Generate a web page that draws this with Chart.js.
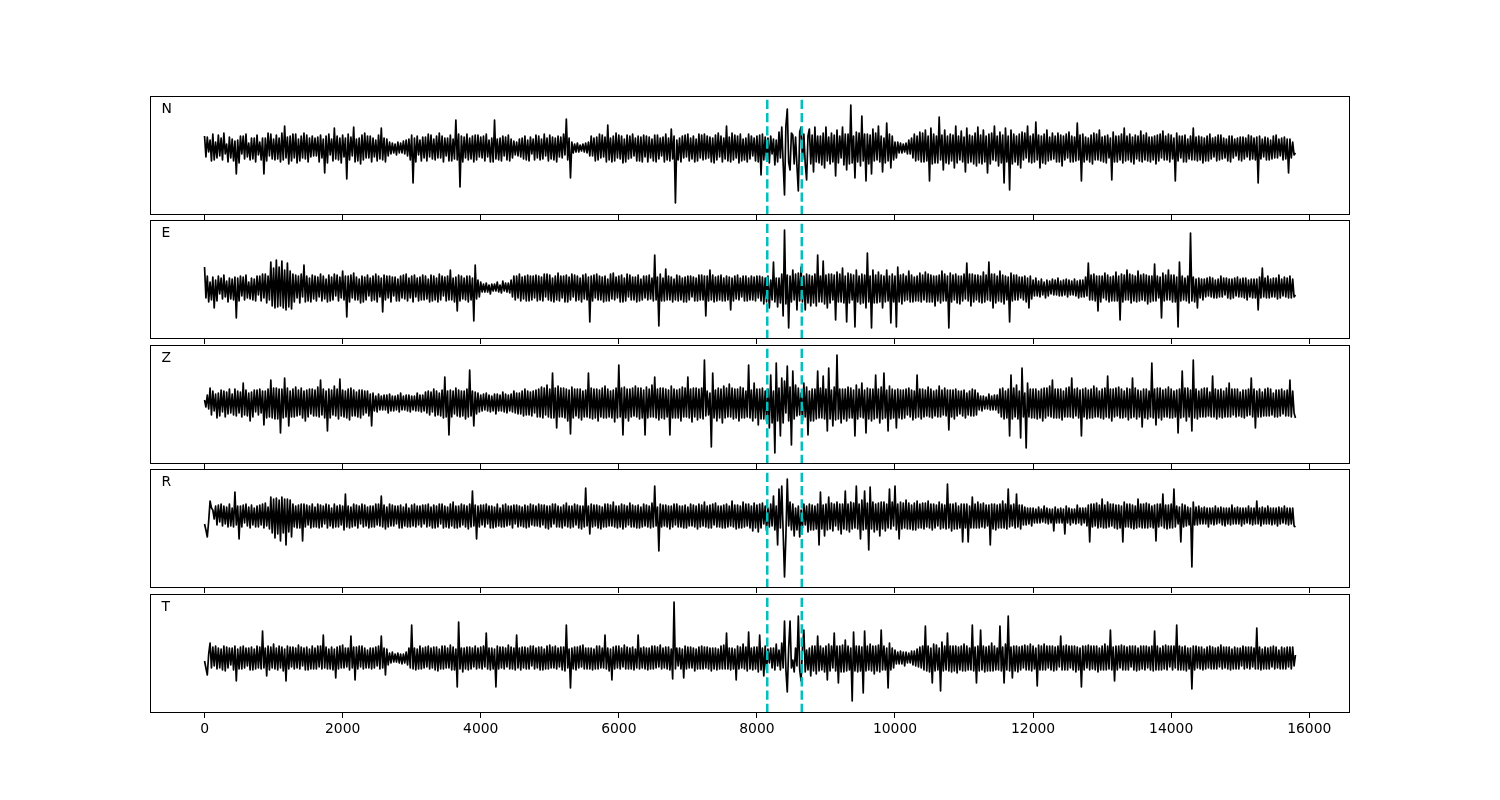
<!DOCTYPE html>
<html>
<head>
<meta charset="utf-8">
<script src="https://cdn.jsdelivr.net/npm/chart.js@4.4.1/dist/chart.umd.min.js"></script>
<style>
html,body{margin:0;padding:0;background:#fff;}
#wrap{position:relative;width:1500px;height:800px;overflow:hidden;background:#fff;}
#wrap canvas{position:absolute;left:0;}
</style>
</head>
<body>
<div id="wrap"></div>
<script>
// ---- data: sample spacing, component names, ticks, pick times, traces ----
const timeStep = 20;
const componentNames = ['N', 'E', 'Z', 'R', 'T'];
const tickValues = [0, 2000, 4000, 6000, 8000, 10000, 12000, 14000, 16000];
const pickTimes = [8150, 8650];

const seriesN = [
 12,-9,11,-4,8,-13,14,-12,6,-10,13,-8,10,-12,15,-6,4,-14,11,-10,9,-13,7,-26,8,-15,12,-6,12,-11,14,-9,5,-12,10,-11,10,-14,13,-7,
 6,-12,10,-26,10,-13,15,-8,14,-11,9,-12,13,-11,10,-14,15,-12,22,-10,11,-16,12,-13,14,-10,14,-15,9,-13,12,-10,15,-11,13,-14,10,-9,12,-8,
 10,-8,11,-14,13,-10,9,-25,12,-15,14,-7,9,-13,20,-11,12,-12,10,-15,13,-9,10,-31,14,-12,11,-8,21,-14,9,-13,10,-16,13,-12,15,-10,12,-10,
 12,-14,10,-9,8,-13,13,-11,20,-12,10,-14,9,-8,6,-6,5,-5,4,-7,6,-5,5,-5,7,-6,8,-8,9,-12,13,-35,10,-14,12,-7,8,-13,11,-10,
 11,-13,14,-9,13,-11,9,-12,12,-10,15,-10,12,-14,10,-8,10,-13,13,-13,9,-11,28,-12,14,-39,12,-14,11,-10,14,-12,10,-11,12,-14,13,-12,13,-9,
 11,-10,12,-13,14,-9,8,-14,10,-14,28,-11,9,-12,10,-13,12,-8,11,-12,13,-13,9,-10,7,-7,6,-8,9,-9,10,-11,12,-12,8,-13,11,-6,9,-12,
 13,-10,12,-12,9,-11,14,-8,10,-13,13,-11,11,-12,10,-14,12,-9,11,-10,14,-7,29,-12,10,-30,6,-5,4,-4,5,-4,3,-3,4,-4,5,-5,6,-8,
 12,-8,10,-13,11,-12,14,-10,13,-9,11,-14,23,-12,10,-14,12,-13,15,-10,13,-11,12,-15,9,-14,13,-11,12,-10,14,-8,10,-13,12,-13,11,-14,13,-9,
 12,-14,11,-10,9,-13,13,-14,13,-11,10,-8,11,-14,14,-12,10,-13,19,-11,12,-55,8,-12,10,-14,12,-10,13,-9,14,-13,10,-11,12,-14,9,-13,14,-10,
 13,-12,14,-11,12,-10,11,-14,10,-15,13,-12,15,-9,12,-14,10,-11,22,-13,11,-14,15,-12,13,-10,12,-15,14,-13,9,-12,10,-14,14,-11,12,-8,10,-13,
 12,-14,13,-27,14,-12,11,-12,10,-15,12,-6,9,-17,8,-14,16,-10,21,-15,-47,22,39,-14,-22,15,13,-16,11,-18,-43,16,21,-12,14,-16,-32,12,19,-16,
 13,-24,21,-14,12,-15,12,-17,15,-20,21,-13,11,-16,15,-14,13,-28,18,-15,12,-10,21,-17,14,-22,14,-16,43,-15,12,-30,16,-14,15,-18,32,-13,14,-33,
 14,-16,13,-26,19,-13,15,-12,22,-14,12,-24,10,-15,25,-13,14,-20,12,-12,6,-10,6,-5,5,-5,4,-4,5,-6,8,-6,10,-10,14,-13,12,-12,16,-14,
 15,-14,18,-13,12,-33,20,-16,14,-15,12,-15,31,-12,13,-22,18,-15,12,-16,14,-13,13,-20,22,-15,12,-12,17,-14,11,-24,20,-15,13,-14,12,-16,15,-18,
 21,-15,13,-16,18,-14,12,-25,14,-16,15,-12,22,-13,12,-18,16,-15,13,-35,20,-14,12,-42,18,-16,14,-14,12,-17,14,-20,16,-12,15,-10,22,-14,12,-15,
 14,-14,26,-12,13,-20,12,-15,14,-16,18,-13,11,-12,15,-11,12,-14,15,-14,13,-18,12,-12,14,-10,16,-14,12,-14,11,-13,25,-12,13,-33,14,-14,11,-12,
 10,-14,13,-16,15,-12,14,-12,18,-13,11,-14,12,-15,13,-10,10,-32,16,-14,12,-14,12,-12,14,-15,20,-13,12,-12,14,-14,11,-16,13,-11,12,-13,17,-14,
 13,-12,15,-13,11,-14,11,-12,12,-16,13,-13,14,-10,17,-12,12,-12,14,-14,13,-11,10,-33,15,-13,12,-10,12,-14,13,-14,9,-11,12,-12,20,-12,11,-13,
 12,-12,11,-15,10,-13,12,-13,14,-11,10,-9,11,-13,13,-12,13,-11,10,-10,9,-13,12,-14,12,-10,9,-8,10,-12,11,-13,11,-11,10,-9,13,-12,12,-11,
 10,-12,11,-35,12,-11,9,-9,11,-12,10,-12,8,-11,12,-10,13,-10,9,-8,10,-12,11,-11,9,-25,9,-10,6,-7,-5
];
const seriesE = [
 21,-10,12,-14,6,-12,11,-20,8,-13,12,-6,10,-11,13,-9,7,-14,10,-11,9,-12,11,-30,10,-13,12,-8,11,-12,13,-10,6,-11,10,-12,9,-13,12,-7,
 12,-13,14,-10,14,-15,12,-12,26,-18,20,-20,28,-19,21,-18,27,-20,18,-22,25,-19,17,-21,14,-14,13,-10,12,-15,14,-9,23,-14,12,-13,10,-14,13,-11,
 12,-13,11,-9,14,-13,12,-11,9,-14,13,-13,11,-12,14,-8,13,-13,11,-10,17,-12,12,-29,12,-14,13,-10,15,-12,11,-12,9,-15,12,-14,11,-12,13,-8,
 10,-13,12,-12,14,-14,12,-9,10,-24,13,-12,12,-10,12,-14,11,-8,11,-13,9,-13,12,-10,13,-11,14,-13,10,-10,12,-14,13,-9,10,-13,11,-12,13,-12,
 12,-11,9,-14,13,-13,12,-12,10,-14,14,-12,12,-8,11,-13,12,-12,18,-12,10,-14,11,-23,13,-13,12,-11,10,-12,12,-14,12,-12,10,-33,23,-11,8,-9,
 6,-4,4,-4,5,-4,3,-6,4,-3,4,-3,6,-4,3,-5,7,-3,5,-4,5,-5,8,-9,12,-12,12,-10,14,-13,11,-11,12,-13,13,-13,12,-12,12,-10,
 13,-13,12,-12,11,-13,14,-9,14,-12,13,-13,10,-14,12,-12,15,-13,12,-10,12,-14,13,-14,11,-12,14,-9,13,-13,12,-12,10,-14,13,-11,14,-12,11,-34,
 12,-13,13,-10,14,-12,12,-12,11,-14,12,-13,9,-13,14,-11,15,-12,11,-10,12,-14,13,-14,10,-13,14,-9,13,-12,11,-12,11,-14,13,-13,9,-12,12,-10,
 12,-12,13,-11,10,-13,33,-12,11,-38,14,-13,10,-13,19,-12,12,-12,11,-14,9,-12,13,-13,12,-12,10,-14,11,-14,12,-12,12,-9,11,-13,10,-13,13,-12,
 13,-12,12,-28,12,-13,18,-12,13,-14,11,-13,12,-12,13,-13,10,-13,12,-12,11,-22,10,-13,12,-11,13,-12,10,-9,12,-13,12,-13,10,-12,12,-12,11,-13,
 12,-10,12,-13,11,-16,10,-14,12,-20,8,-12,26,-14,10,-19,10,-15,14,-28,58,-16,13,-40,12,-14,18,-12,14,-22,15,-13,21,-14,12,-22,14,-15,13,-18,
 12,-15,14,-18,33,-14,12,-14,27,-16,13,-20,14,-15,14,-12,13,-32,16,-14,14,-14,20,-15,12,-34,15,-15,14,-12,13,-39,18,-14,12,-16,14,-15,13,-20,
 35,-14,12,-40,18,-15,13,-15,16,-14,13,-20,12,-14,18,-13,12,-35,14,-14,12,-39,21,-14,13,-16,14,-13,12,-12,17,-14,13,-14,11,-13,12,-13,15,-14,
 13,-12,16,-14,14,-14,13,-14,12,-18,12,-13,13,-15,17,-13,14,-13,12,-40,15,-14,13,-12,14,-15,12,-16,12,-13,14,-11,25,-13,14,-18,14,-14,13,-12,
 13,-14,12,-15,16,-14,13,-12,26,-13,14,-20,14,-15,12,-13,17,-14,13,-16,12,-12,11,-34,15,-13,13,-12,13,-12,11,-10,11,-12,12,-14,10,-20,12,-11,
 8,-8,10,-8,7,-9,9,-7,6,-10,8,-8,7,-6,9,-7,8,-7,10,-8,7,-8,8,-7,9,-9,8,-7,7,-7,9,-8,7,-10,8,-9,8,-9,11,-8,
 25,-12,13,-12,14,-13,12,-23,12,-14,12,-10,15,-12,13,-14,11,-13,12,-13,16,-13,12,-32,14,-14,13,-12,18,-12,14,-15,13,-13,12,-14,17,-13,13,-12,
 14,-13,13,-16,12,-14,12,-13,24,-13,12,-10,11,-30,15,-13,13,-12,18,-12,13,-14,13,-14,11,-39,26,-13,12,-12,10,-13,12,-15,55,-13,11,-14,9,-20,
 10,-10,9,-12,9,-9,10,-8,11,-9,10,-10,8,-10,9,-9,12,-9,10,-7,10,-10,9,-11,9,-10,10,-8,11,-9,9,-9,10,-10,10,-12,8,-9,9,-10,
 9,-10,9,-22,11,-10,20,-9,10,-10,12,-10,9,-9,10,-9,10,-11,13,-10,9,-8,11,-9,10,-10,12,-10,9,-9,-7
];
const seriesZ = [
 3,-4,8,-6,15,-12,12,-8,9,-15,10,-13,13,-9,12,-14,11,-11,14,-10,9,-12,14,-13,12,-10,11,-14,20,-12,13,-13,10,-18,11,-14,13,-9,13,-12,
 14,-10,12,-22,12,-15,14,-14,23,-15,15,-16,15,-16,14,-30,14,-15,25,-14,15,-23,12,-14,14,-14,16,-13,13,-12,15,-15,12,-18,13,-14,14,-11,14,-13,
 13,-13,16,-14,23,-12,14,-15,12,-28,14,-15,13,-12,17,-13,14,-16,24,-13,13,-14,12,-15,14,-17,15,-13,13,-13,11,-14,13,-15,13,-12,12,-10,12,-13,
 9,-23,10,-8,7,-9,9,-7,7,-7,8,-7,8,-10,9,-8,7,-8,7,-7,8,-9,10,-7,7,-7,8,-8,8,-9,7,-7,7,-8,10,-8,8,-9,8,-8,
 11,-10,12,-12,11,-9,14,-13,12,-12,10,-13,13,-15,26,-14,12,-32,13,-14,12,-11,15,-13,13,-14,12,-13,12,-16,14,-14,33,-13,12,-23,11,-11,10,-9,
 8,-8,9,-7,10,-8,8,-9,7,-8,9,-11,9,-8,8,-8,11,-9,9,-10,8,-8,9,-9,12,-10,10,-11,10,-11,12,-13,14,-12,12,-12,11,-13,12,-10,
 13,-14,14,-14,16,-15,15,-12,18,-14,14,-15,30,-15,15,-25,17,-14,15,-14,15,-15,14,-18,13,-31,16,-15,14,-13,14,-15,14,-17,12,-14,13,-14,30,-15,
 15,-16,14,-15,14,-18,13,-14,15,-15,17,-15,14,-14,12,-15,13,-19,15,-15,38,-14,15,-32,16,-15,14,-18,14,-14,15,-13,17,-14,15,-16,15,-15,13,-32,
 16,-15,14,-14,18,-14,26,-15,14,-17,15,-15,15,-16,14,-14,13,-32,17,-15,14,-15,13,-15,14,-18,16,-14,15,-14,26,-15,14,-19,15,-14,15,-17,14,-15,
 15,-16,43,-13,12,-12,10,-44,30,-15,13,-18,15,-15,14,-20,17,-15,15,-14,19,-14,15,-16,14,-15,14,-18,16,-15,15,-15,12,-14,38,-15,13,-18,20,-15,
 14,-22,14,-16,15,-16,12,-18,14,-25,28,-20,12,-50,40,-18,15,-33,25,-20,22,-10,37,-18,16,-42,32,-16,18,-13,15,-12,10,-18,20,-14,16,-32,12,-18,
 14,-18,14,-16,32,-15,15,-15,27,-16,14,-28,35,-16,13,-23,16,-17,48,-16,14,-20,14,-16,14,-18,16,-15,15,-15,13,-33,18,-16,14,-14,20,-15,13,-30,
 15,-16,14,-18,14,-16,28,-15,14,-20,16,-16,30,-15,13,-28,17,-16,14,-15,13,-25,14,-15,13,-16,13,-15,14,-12,15,-14,13,-17,12,-15,28,-14,14,-16,
 14,-14,13,-13,16,-14,14,-15,12,-13,13,-14,17,-14,13,-12,15,-13,13,-27,13,-14,13,-16,14,-13,12,-11,12,-13,13,-15,10,-12,12,-13,14,-13,13,-12,
 10,-7,7,-8,7,-6,6,-6,9,-7,7,-7,8,-7,8,-10,14,-14,15,-16,12,-15,14,-33,28,-16,15,-14,18,-16,12,-35,35,-14,10,-45,20,-14,14,-15,
 14,-15,14,-16,12,-15,14,-18,15,-15,15,-13,17,-14,23,-15,14,-15,14,-15,14,-17,12,-14,15,-14,16,-14,25,-15,14,-13,15,-15,13,-33,14,-14,15,-16,
 13,-15,14,-15,17,-14,15,-14,12,-15,14,-16,15,-14,27,-15,14,-18,14,-14,15,-13,16,-15,14,-15,12,-14,15,-17,14,-15,25,-14,15,-16,13,-14,12,-24,
 14,-15,14,-16,12,-14,40,-15,14,-22,15,-15,15,-17,13,-14,14,-14,16,-15,14,-15,12,-14,13,-30,14,-15,32,-14,15,-18,15,-14,13,-28,43,-15,14,-16,
 12,-14,14,-14,15,-14,15,-13,11,-14,27,-14,14,-16,13,-14,14,-15,12,-14,15,-14,20,-14,14,-12,14,-14,14,-13,11,-14,13,-15,13,-13,14,-12,25,-14,
 14,-25,12,-14,14,-14,11,-13,14,-13,15,-13,14,-12,10,-14,13,-14,13,-13,14,-11,12,-13,13,-13,23,-14,12,-10,-15
];
const seriesR = [
 -8,-14,-21,-5,15,8,6,-3,10,-9,11,-6,12,-10,10,-8,9,-11,12,-10,8,-11,24,-9,10,-23,10,-11,11,-7,12,-10,9,-12,11,-9,8,-11,10,-11,
 11,-9,12,-12,13,-10,9,-13,19,-17,17,-22,18,-18,16,-25,19,-17,17,-29,17,-16,16,-21,12,-11,10,-12,11,-12,12,-25,12,-11,11,-9,10,-12,12,-11,
 9,-11,12,-12,11,-11,10,-8,12,-12,11,-10,8,-12,12,-11,10,-11,11,-9,10,-14,22,-11,10,-12,9,-11,12,-10,11,-12,10,-8,12,-11,11,-10,9,-12,
 10,-11,10,-11,12,-9,12,-10,20,-11,11,-13,9,-11,12,-10,11,-10,10,-8,10,-12,11,-12,9,-10,12,-11,8,-11,11,-10,12,-11,10,-9,10,-11,11,-8,
 11,-11,12,-10,9,-12,11,-12,10,-11,12,-8,12,-12,10,-11,9,-12,12,-10,14,-12,10,-12,10,-11,12,-9,11,-11,10,-13,12,-11,25,-10,11,-23,10,-11,
 11,-9,11,-11,12,-8,10,-12,10,-12,9,-11,12,-10,8,-11,11,-11,12,-10,10,-9,10,-12,11,-8,11,-11,10,-10,9,-11,11,-12,10,-11,12,-9,11,-10,
 10,-10,12,-11,11,-9,11,-12,10,-13,10,-11,12,-8,12,-11,10,-11,9,-12,11,-10,13,-11,10,-12,10,-11,12,-9,11,-12,10,-13,10,-11,28,-10,10,-18,
 12,-11,11,-10,11,-12,10,-13,9,-11,12,-11,12,-10,11,-10,14,-11,10,-12,10,-11,12,-13,11,-11,10,-9,13,-11,11,-11,10,-12,11,-12,9,-11,12,-10,
 11,-11,10,-12,13,-11,30,-10,9,-35,12,-11,11,-10,11,-11,10,-13,10,-11,12,-9,12,-11,10,-11,10,-12,11,-12,9,-10,12,-10,11,-11,10,-13,12,-11,
 11,-10,14,-11,10,-12,11,-12,12,-9,13,-11,10,-11,10,-12,11,-12,12,-11,10,-10,15,-11,11,-13,11,-12,10,-12,14,-11,12,-10,12,-12,10,-15,13,-12,
 11,-16,12,-12,13,-8,10,-15,8,-11,12,-10,20,-14,10,-29,27,-12,30,-16,-61,-20,37,-10,14,-14,12,-20,8,-14,10,-21,6,-12,12,-9,10,-16,12,-14,
 11,-14,10,-13,12,-29,24,-13,11,-20,12,-14,19,-13,13,-15,12,-10,14,-14,12,-18,12,-13,25,-14,12,-16,14,-13,13,-12,30,-13,12,-23,16,-14,25,-13,
 13,-34,29,-13,14,-16,12,-14,13,-20,14,-13,14,-15,12,-12,27,-13,14,-10,30,-14,12,-23,14,-13,13,-12,16,-13,13,-13,11,-14,13,-14,15,-12,12,-12,
 13,-13,13,-11,15,-12,12,-14,12,-12,11,-10,14,-13,12,-12,11,-13,32,-12,12,-15,12,-13,13,-13,10,-12,12,-26,12,-12,12,-26,10,-12,19,-12,12,-12,
 14,-12,12,-11,13,-12,11,-10,11,-29,12,-13,12,-14,11,-12,12,-12,15,-12,12,-13,27,-11,11,-10,12,-12,22,-11,11,-13,11,-9,9,-9,8,-8,8,-10,
 8,-7,7,-7,9,-7,7,-6,10,-7,8,-8,7,-7,7,-15,9,-7,7,-7,8,-7,7,-18,10,-7,8,-9,7,-7,7,-8,11,-7,8,-9,8,-7,8,-10,
 11,-26,12,-11,12,-10,13,-12,11,-11,17,-12,11,-12,14,-11,12,-10,12,-12,11,-13,11,-12,10,-26,14,-11,12,-11,12,-12,11,-13,10,-12,17,-11,12,-12,
 12,-12,13,-12,12,-11,10,-12,11,-25,12,-11,12,-10,22,-12,11,-13,11,-12,12,-12,27,-11,10,-8,9,-26,12,-11,11,-10,9,-9,8,-51,14,-9,9,-9,
 10,-8,8,-8,9,-8,8,-11,8,-8,8,-9,10,-8,8,-7,9,-9,8,-10,8,-8,8,-9,11,-8,8,-8,9,-8,8,-10,8,-8,8,-7,10,-8,8,-9,
 8,-8,15,-8,8,-10,9,-8,8,-8,10,-8,8,-9,8,-8,8,-10,9,-8,8,-7,10,-8,8,-9,8,-8,8,-10,-11
];
const seriesT = [
 -3,-10,-17,4,15,-10,11,-8,12,-11,10,-10,9,-12,12,-13,11,-10,10,-7,10,-12,12,-23,9,-11,11,-11,12,-10,10,-8,10,-12,11,-12,9,-11,12,-10,
 11,-11,27,-10,10,-18,12,-12,11,-10,14,-11,10,-12,12,-10,11,-13,9,-23,12,-11,11,-9,11,-11,10,-10,13,-11,11,-8,10,-12,11,-12,9,-11,12,-11,
 10,-11,12,-9,12,-11,23,-10,11,-11,9,-11,11,-12,9,-20,11,-11,12,-10,13,-10,10,-9,10,-12,22,-10,11,-22,11,-11,12,-9,12,-11,10,-10,8,-10,
 10,-11,10,-10,11,-8,12,-11,22,-10,10,-17,9,-7,5,-5,6,-4,4,-4,5,-5,4,-6,4,-5,6,-7,10,-10,33,-11,10,-12,9,-11,12,-11,10,-10,
 11,-9,12,-11,10,-10,11,-12,11,-13,9,-11,12,-11,12,-10,10,-10,13,-12,11,-12,9,-29,36,-11,10,-14,10,-11,11,-12,11,-11,10,-9,12,-11,10,-10,
 11,-11,12,-9,25,-11,10,-12,10,-11,9,-29,12,-11,11,-10,11,-11,10,-9,13,-11,11,-11,10,-12,23,-10,10,-12,11,-10,11,-11,10,-11,12,-8,12,-11,
 10,-10,11,-12,11,-12,9,-11,12,-11,13,-10,11,-10,12,-11,10,-9,11,-12,11,-13,33,-10,9,-30,10,-11,11,-12,11,-10,12,-9,13,-11,10,-11,10,-11,
 10,-12,9,-11,12,-11,12,-10,10,-10,23,-11,10,-13,9,-22,11,-11,12,-10,12,-11,10,-9,13,-11,11,-11,10,-11,11,-12,9,-10,23,-11,10,-10,11,-11,
 10,-12,10,-11,12,-11,12,-10,11,-9,13,-11,10,-10,11,-11,11,-12,9,-21,56,-11,10,-8,10,-11,9,-20,12,-11,11,-10,11,-10,10,-13,9,-11,11,-11,
 12,-11,11,-10,11,-11,10,-13,10,-11,10,-12,9,-11,12,-11,13,-11,25,-11,10,-12,10,-11,9,-22,12,-11,11,-10,14,-11,11,-13,26,-11,10,-12,11,-11,
 11,-14,23,-12,10,-18,12,-12,9,-5,10,-10,10,-12,14,-8,8,-12,15,-10,37,-12,-34,10,37,-10,-2,-14,10,-8,42,-12,-23,10,28,-14,8,-12,10,-18,
 12,-13,12,-16,22,-13,12,-12,10,-14,12,-22,14,-13,12,-10,25,-13,12,-25,12,-14,13,-14,18,-13,12,-12,10,-43,26,-13,12,-14,12,-13,11,-35,27,-13,
 12,-12,14,-13,12,-16,12,-13,13,-14,28,-12,12,-12,10,-30,15,-12,10,-10,8,-6,6,-6,7,-6,6,-8,6,-5,5,-5,7,-7,7,-8,9,-9,11,-10,
 12,-12,32,-13,12,-14,10,-25,14,-13,13,-12,10,-33,16,-13,12,-12,25,-13,12,-14,12,-13,12,-15,11,-12,12,-13,14,-13,12,-12,10,-12,33,-13,11,-25,
 12,-13,28,-12,12,-14,11,-13,12,-13,15,-13,12,-12,10,-12,32,-13,11,-25,14,-12,42,-13,11,-20,12,-13,12,-14,11,-12,12,-10,13,-12,12,-12,14,-13,
 12,-11,10,-28,13,-12,12,-12,14,-12,12,-10,12,-12,12,-13,11,-12,12,-9,22,-12,12,-12,13,-12,12,-10,12,-12,12,-14,11,-12,10,-29,12,-12,12,-10,
 13,-12,12,-11,12,-12,12,-14,10,-12,12,-12,14,-12,12,-11,28,-12,11,-23,12,-12,12,-10,13,-12,12,-12,11,-12,12,-9,12,-12,12,-13,10,-12,12,-11,
 12,-12,12,-10,11,-12,12,-13,27,-12,12,-12,10,-12,12,-11,13,-12,12,-9,12,-12,12,-10,33,-12,12,-12,11,-12,12,-13,10,-11,10,-31,12,-12,12,-10,
 11,-11,11,-12,9,-11,11,-10,12,-11,11,-11,10,-11,11,-9,13,-11,11,-10,11,-11,11,-12,9,-11,11,-11,10,-11,10,-8,12,-11,11,-10,11,-11,11,-9,
 10,-11,30,-11,11,-12,9,-11,11,-11,10,-11,11,-9,12,-11,11,-10,8,-11,11,-11,10,-11,11,-9,11,-11,11,-8,3
];
const allSeries = [seriesN, seriesE, seriesZ, seriesR, seriesT];

// ---- layout / styling ----
const xMin = -790, xMax = 16590;
const yRanges = [[-67, 52], [-51, 68], [-61, 58], [-72, 47], [-55, 64]];
const panelTops = [96, 220, 345, 469, 594];
const panelHeight = 119;
const padTop = 4;
const FONT = '"DejaVu Sans", "Liberation Sans", sans-serif';

const boxPlugin = {
  id: 'box',
  afterDatasetsDraw(chart, args, opts) {
    const ctx = chart.ctx, a = chart.chartArea;
    ctx.save();
    ctx.strokeStyle = '#000';
    ctx.lineWidth = 1;
    ctx.strokeRect(a.left + 0.5, a.top + 0.5, a.right - a.left - 1, a.bottom - a.top - 1);
    ctx.fillStyle = '#000';
    ctx.font = '13.9px ' + FONT;
    ctx.textBaseline = 'alphabetic';
    ctx.textAlign = 'left';
    ctx.fillText(opts.label, a.left + 11.5, a.top + 17);
    ctx.restore();
  }
};

const wrap = document.getElementById('wrap');
allSeries.forEach((series, i) => {
  const last = i === allSeries.length - 1;
  const axisH = last ? 34 : 5;
  const cv = document.createElement('canvas');
  cv.width = 1500;
  cv.height = padTop + panelHeight + axisH;
  cv.style.width = '1500px';
  cv.style.height = cv.height + 'px';
  cv.style.top = (panelTops[i] - padTop) + 'px';
  wrap.appendChild(cv);
  const yr = yRanges[i];
  const datasets = pickTimes.map(t => ({
    data: [{x: t, y: yr[0]}, {x: t, y: yr[1]}],
    borderColor: '#00bfbf',
    borderWidth: 2.5,
    borderDash: [9.25, 4],
    pointRadius: 0,
    tension: 0,
    order: 0
  }));
  datasets.push({
    data: series.map((v, k) => ({x: k * timeStep, y: v})),
    borderColor: '#000000',
    borderWidth: 1.7,
    borderJoinStyle: 'round',
    pointRadius: 0,
    tension: 0,
    order: 1
  });
  new Chart(cv, {
    type: 'line',
    data: {datasets},
    options: {
      responsive: false,
      animation: false,
      devicePixelRatio: 1,
      events: [],
      layout: {padding: {left: 150, right: 150, top: padTop, bottom: 0}},
      plugins: {legend: {display: false}, tooltip: {enabled: false}, title: {display: false}, box: {label: componentNames[i]}},
      scales: {
        x: {
          type: 'linear',
          min: xMin,
          max: xMax,
          afterBuildTicks: s => { s.ticks = tickValues.map(v => ({value: v})); },
          afterFit: s => { s.height = axisH; },
          grid: {display: true, drawOnChartArea: false, drawTicks: true, tickLength: 5, tickWidth: 1, tickColor: '#000'},
          border: {display: false},
          ticks: {
            display: last,
            color: '#000',
            font: {family: FONT, size: 13.9},
            padding: 3,
            maxRotation: 0,
            autoSkip: false,
            callback: v => String(v)
          }
        },
        y: {display: false, min: yr[0], max: yr[1]}
      }
    },
    plugins: [boxPlugin]
  });
});
</script>
</body>
</html>
